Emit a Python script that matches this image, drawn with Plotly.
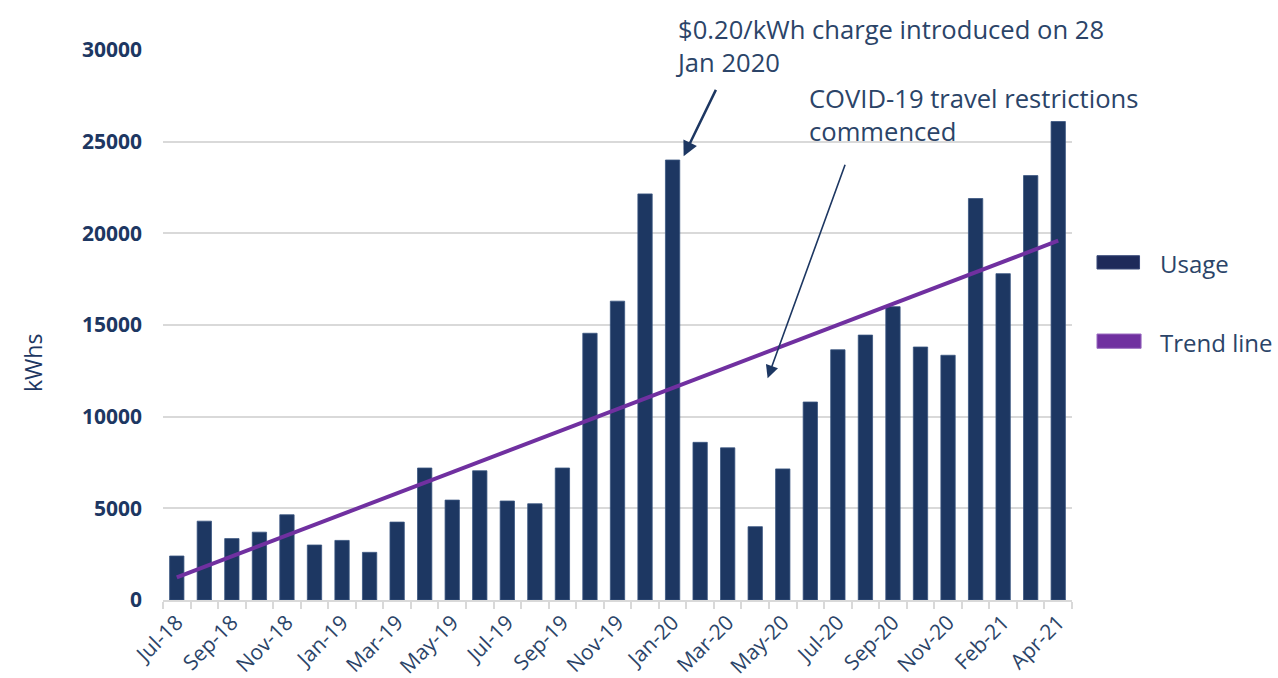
import plotly.graph_objects as go

months = ["Jul-18", "Aug-18", "Sep-18", "Oct-18", "Nov-18", "Dec-18",
          "Jan-19", "Feb-19", "Mar-19", "Apr-19", "May-19", "Jun-19",
          "Jul-19", "Aug-19", "Sep-19", "Oct-19", "Nov-19", "Dec-19",
          "Jan-20", "Feb-20", "Mar-20", "Apr-20", "May-20", "Jun-20",
          "Jul-20", "Aug-20", "Sep-20", "Oct-20", "Nov-20", "Dec-20",
          "Feb-21", "Mar-21", "Apr-21"]
usage = [2400, 4300, 3350, 3700, 4650, 3000,
         3250, 2600, 4250, 7200, 5450, 7050,
         5400, 5250, 7200, 14550, 16300, 22150,
         24000, 8600, 8300, 4000, 7150, 10800,
         13650, 14450, 16000, 13800, 13350, 21900,
         17800, 23150, 26100]
tick_text = ["Jul-18", "", "Sep-18", "", "Nov-18", "",
             "Jan-19", "", "Mar-19", "", "May-19", "",
             "Jul-19", "", "Sep-19", "", "Nov-19", "",
             "Jan-20", "", "Mar-20", "", "May-20", "",
             "Jul-20", "", "Sep-20", "", "Nov-20", "",
             "Feb-21", "", "Apr-21"]
trend_months = ["Jul-18", "Apr-21"]
trend_values = [1230, 19600]
y_ticks = [0, 5000, 10000, 15000, 20000, 25000, 30000]

NAVY = "#1d3762"
TEXT = "#2b4468"
PURPLE = "#7030a0"
GRID = "#d9d9d9"
FONT = "Open Sans"

fig = go.Figure()
fig.add_trace(go.Bar(x=months, y=usage, name="Usage",
                     marker=dict(color=NAVY, line=dict(color="#3a5580", width=0.8))))
fig.add_trace(go.Scatter(x=trend_months, y=trend_values, name="Trend line", mode="lines",
                         line=dict(color=PURPLE, width=4)))

fig.update_layout(
    width=1278, height=678,
    margin=dict(l=163, r=206, t=50, b=78),
    plot_bgcolor="white", paper_bgcolor="white",
    bargap=0.48,
    font=dict(family=FONT, color=TEXT),
    showlegend=False,
    xaxis=dict(type="category", categoryorder="array", categoryarray=months,
               tickmode="array", tickvals=months, ticktext=tick_text,
               tickangle=-45, tickson="boundaries", ticks="outside", ticklen=7,
               tickcolor=GRID, tickwidth=1.5, automargin=False,
               showline=True, linecolor=GRID, linewidth=2,
               tickfont=dict(size=21, color=TEXT, family=FONT),
               showgrid=False, range=[-0.5, len(months) - 0.5]),
    yaxis=dict(range=[0, 30000], tickvals=y_ticks, tickformat="d",
               showgrid=True, gridcolor=GRID, gridwidth=1.5,
               zeroline=False, showline=False, automargin=False,
               ticklabelstandoff=20,
               tickfont=dict(size=21, color=NAVY, family=FONT, weight="bold")),
)

# Y axis title
fig.add_annotation(x=-0.143, y=0.431, xref="paper", yref="paper", xanchor="center", yanchor="middle",
                   text="kWhs", textangle=-90, showarrow=False,
                   font=dict(size=23, color=NAVY, family=FONT))

# Custom legend (wide colour blocks as in the reference)
fig.add_shape(type="rect", xref="paper", yref="paper", x0=1.0275, x1=1.0743, y0=0.6018, y1=0.626,
              fillcolor="#1e2a5a", line=dict(color="#3a4a7a", width=1))
fig.add_shape(type="rect", xref="paper", yref="paper", x0=1.0275, x1=1.076, y0=0.4576, y1=0.4836,
              fillcolor=PURPLE, line=dict(color="#9a6cc0", width=1))
fig.add_annotation(x=1.095, y=0.611, xref="paper", yref="paper", xanchor="left", yanchor="middle",
                   text="Usage", showarrow=False, font=dict(size=24, color=TEXT, family=FONT))
fig.add_annotation(x=1.095, y=0.469, xref="paper", yref="paper", xanchor="left", yanchor="middle",
                   text="Trend line", showarrow=False, font=dict(size=24, color=TEXT, family=FONT))

# Arrows
fig.add_annotation(x=18.4, y=24200, xref="x", yref="y", text="", showarrow=True,
                   ax=33, ay=-68, arrowhead=2, arrowsize=1.2, arrowwidth=2.5, arrowcolor=NAVY)
fig.add_annotation(x=21.45, y=12100, xref="x", yref="y", text="", showarrow=True,
                   ax=78, ay=-215, arrowhead=2, arrowsize=1.6, arrowwidth=1.6, arrowcolor=NAVY)
# Annotation texts
fig.add_annotation(x=0.561, y=1.008, xref="paper", yref="paper", xanchor="left", yanchor="middle",
                   text="$0.20/kWh charge introduced on 28<br>Jan 2020", showarrow=False, align="left",
                   font=dict(size=25.6, color=TEXT, family=FONT))
fig.add_annotation(x=0.709, y=0.8827, xref="paper", yref="paper", xanchor="left", yanchor="middle",
                   text="COVID-19 travel restrictions<br>commenced", showarrow=False, align="left",
                   font=dict(size=25.6, color=TEXT, family=FONT))

fig.write_html("out.html", config={"displayModeBar": False},
               post_script="document.body.style.margin='0';document.body.style.overflow='hidden';")
